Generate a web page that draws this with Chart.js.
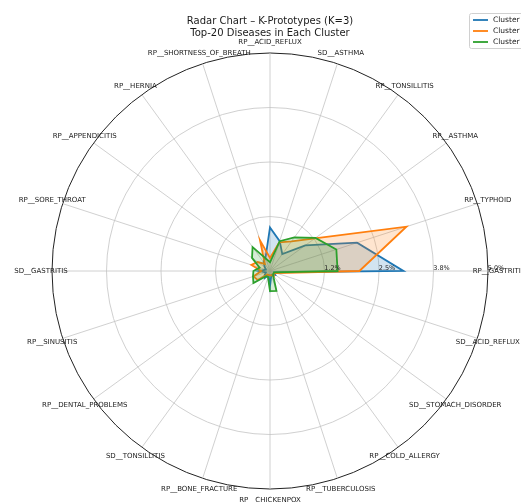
<!DOCTYPE html>
<html>
<head>
<meta charset="utf-8">
<script src="https://cdn.jsdelivr.net/npm/chart.js@4/dist/chart.umd.min.js"></script>
<style>
  html, body { margin: 0; padding: 0; background: #fff; }
  canvas { display: block; }
</style>
</head>
<body>
<canvas id="radar" width="521" height="502"></canvas>
<script>
/* ── data (clockwise from top, as Chart.js lays out a radar) ── */
const DISEASES = [
  'RP__ACID_REFLUX', 'SD__ASTHMA', 'RP__TONSILLITIS', 'RP__ASTHMA', 'RP__TYPHOID',
  'RP__GASTRITIS', 'SD__ACID_REFLUX', 'SD__STOMACH_DISORDER', 'RP__COLD_ALLERGY', 'RP__TUBERCULOSIS',
  'RP__CHICKENPOX', 'RP__BONE_FRACTURE', 'SD__TONSILLITIS', 'RP__DENTAL_PROBLEMS', 'RP__SINUSITIS',
  'SD__GASTRITIS', 'RP__SORE_THROAT', 'RP__APPENDICITIS', 'RP__HERNIA', 'RP__SHORTNESS_OF_BREATH',
];

// share of each cluster (%)
const CLUSTER_0 = [1.00, 0.72, 0.48, 1.00, 2.10, 3.06, 0.10, 0.15, 0.10, 0.10,
                   0.35, 0.10, 0.20, 0.15, 0.10, 0.25, 0.10, 0.15, 0.25, 0.33];
const CLUSTER_1 = [0.30, 0.69, 0.84, 1.27, 3.29, 2.05, 0.15, 0.10, 0.15, 0.10,
                   0.10, 0.10, 0.10, 0.35, 0.40, 0.20, 0.45, 0.35, 0.20, 0.74];
const CLUSTER_2 = [0.20, 0.72, 0.95, 1.29, 1.60, 1.55, 0.10, 0.10, 0.12, 0.48,
                   0.46, 0.15, 0.15, 0.47, 0.41, 0.38, 0.25, 0.51, 0.68, 0.30];

const SERIES_NAMES = ['Cluster 0', 'Cluster 1', 'Cluster 2'];
const R_TICKS      = [1.25, 2.5, 3.75, 5.0];
const R_TICK_TEXT  = ['1.2%', '2.5%', '3.8%', '5.0%'];
const R_MAX        = 5.0;

const COLORS = ['#1f77b4', '#ff7f0e', '#2ca02c'];
const FILLS  = ['rgba(31,119,180,0.2)', 'rgba(255,127,14,0.2)', 'rgba(44,160,44,0.2)'];
const FONT   = '"DejaVu Sans", sans-serif';

/* ── overlay: title, category labels, r-tick labels, legend ── */
const overlay = {
  id: 'overlay',
  afterDraw(chart) {
    const ctx = chart.ctx;
    const sc  = chart.scales.r;
    const outer = sc.getDistanceFromCenterForValue(R_MAX);

    ctx.save();
    ctx.fillStyle = '#1a1a1a';
    ctx.textAlign = 'center';
    ctx.textBaseline = 'middle';

    // title
    ctx.font = '10px ' + FONT;
    ctx.fillText('Radar Chart \u2013 K-Prototypes (K=3)', 270, 21);
    ctx.fillText('Top-20 Diseases in Each Cluster', 270, 33);

    // category labels
    ctx.font = '7px ' + FONT;
    DISEASES.forEach((name, i) => {
      const p = sc.getPointPosition(i, outer + 11);
      ctx.fillText(name, p.x, p.y);
    });

    // r tick labels along the 0° spoke
    ctx.font = '6.5px ' + FONT;
    R_TICKS.forEach((v, k) => {
      const p = sc.getPointPosition(5, sc.getDistanceFromCenterForValue(v) + 8);
      ctx.fillText(R_TICK_TEXT[k], p.x, p.y - 3);
    });

    // legend (runs off the right edge like the original)
    ctx.fillStyle = '#fff';
    ctx.strokeStyle = '#d0d0d0';
    ctx.lineWidth = 1;
    ctx.beginPath();
    ctx.roundRect(469.5, 13.5, 70, 35, 2);
    ctx.fill();
    ctx.stroke();
    ctx.font = '7.5px ' + FONT;
    ctx.textAlign = 'left';
    SERIES_NAMES.forEach((name, i) => {
      const y = 20 + i * 11;
      ctx.strokeStyle = COLORS[i];
      ctx.lineWidth = 1.8;
      ctx.beginPath();
      ctx.moveTo(473, y);
      ctx.lineTo(488, y);
      ctx.stroke();
      ctx.fillStyle = '#1a1a1a';
      ctx.fillText(name, 493, y);
    });
    ctx.restore();
  }
};

const clusters = [CLUSTER_0, CLUSTER_1, CLUSTER_2];

new Chart(document.getElementById('radar'), {
  type: 'radar',
  data: {
    labels: DISEASES,
    datasets: clusters.map((vals, i) => ({
      label: SERIES_NAMES[i],
      data: vals,
      borderColor: COLORS[i],
      backgroundColor: FILLS[i],
      borderWidth: 1.8,
      pointRadius: 0,
      fill: true,
      order: 3 - i,
    })),
  },
  options: {
    responsive: false,
    animation: false,
    layout: { padding: { left: 52, right: 33, top: 53, bottom: 13 } },
    plugins: {
      legend: { display: false },
      title: { display: false },
      tooltip: { enabled: false },
    },
    scales: {
      r: {
        min: 0,
        max: R_MAX,
        ticks: { display: false, stepSize: 1.25 },
        pointLabels: { display: false },
        angleLines: { color: '#c4c4c4', lineWidth: 0.8 },
        grid: {
          circular: true,
          color: c => (c.tick && c.tick.value === R_MAX ? '#222' : '#c4c4c4'),
          lineWidth: c => (c.tick && c.tick.value === R_MAX ? 1 : 0.8),
        },
      },
    },
  },
  plugins: [overlay],
});
</script>
</body>
</html>
